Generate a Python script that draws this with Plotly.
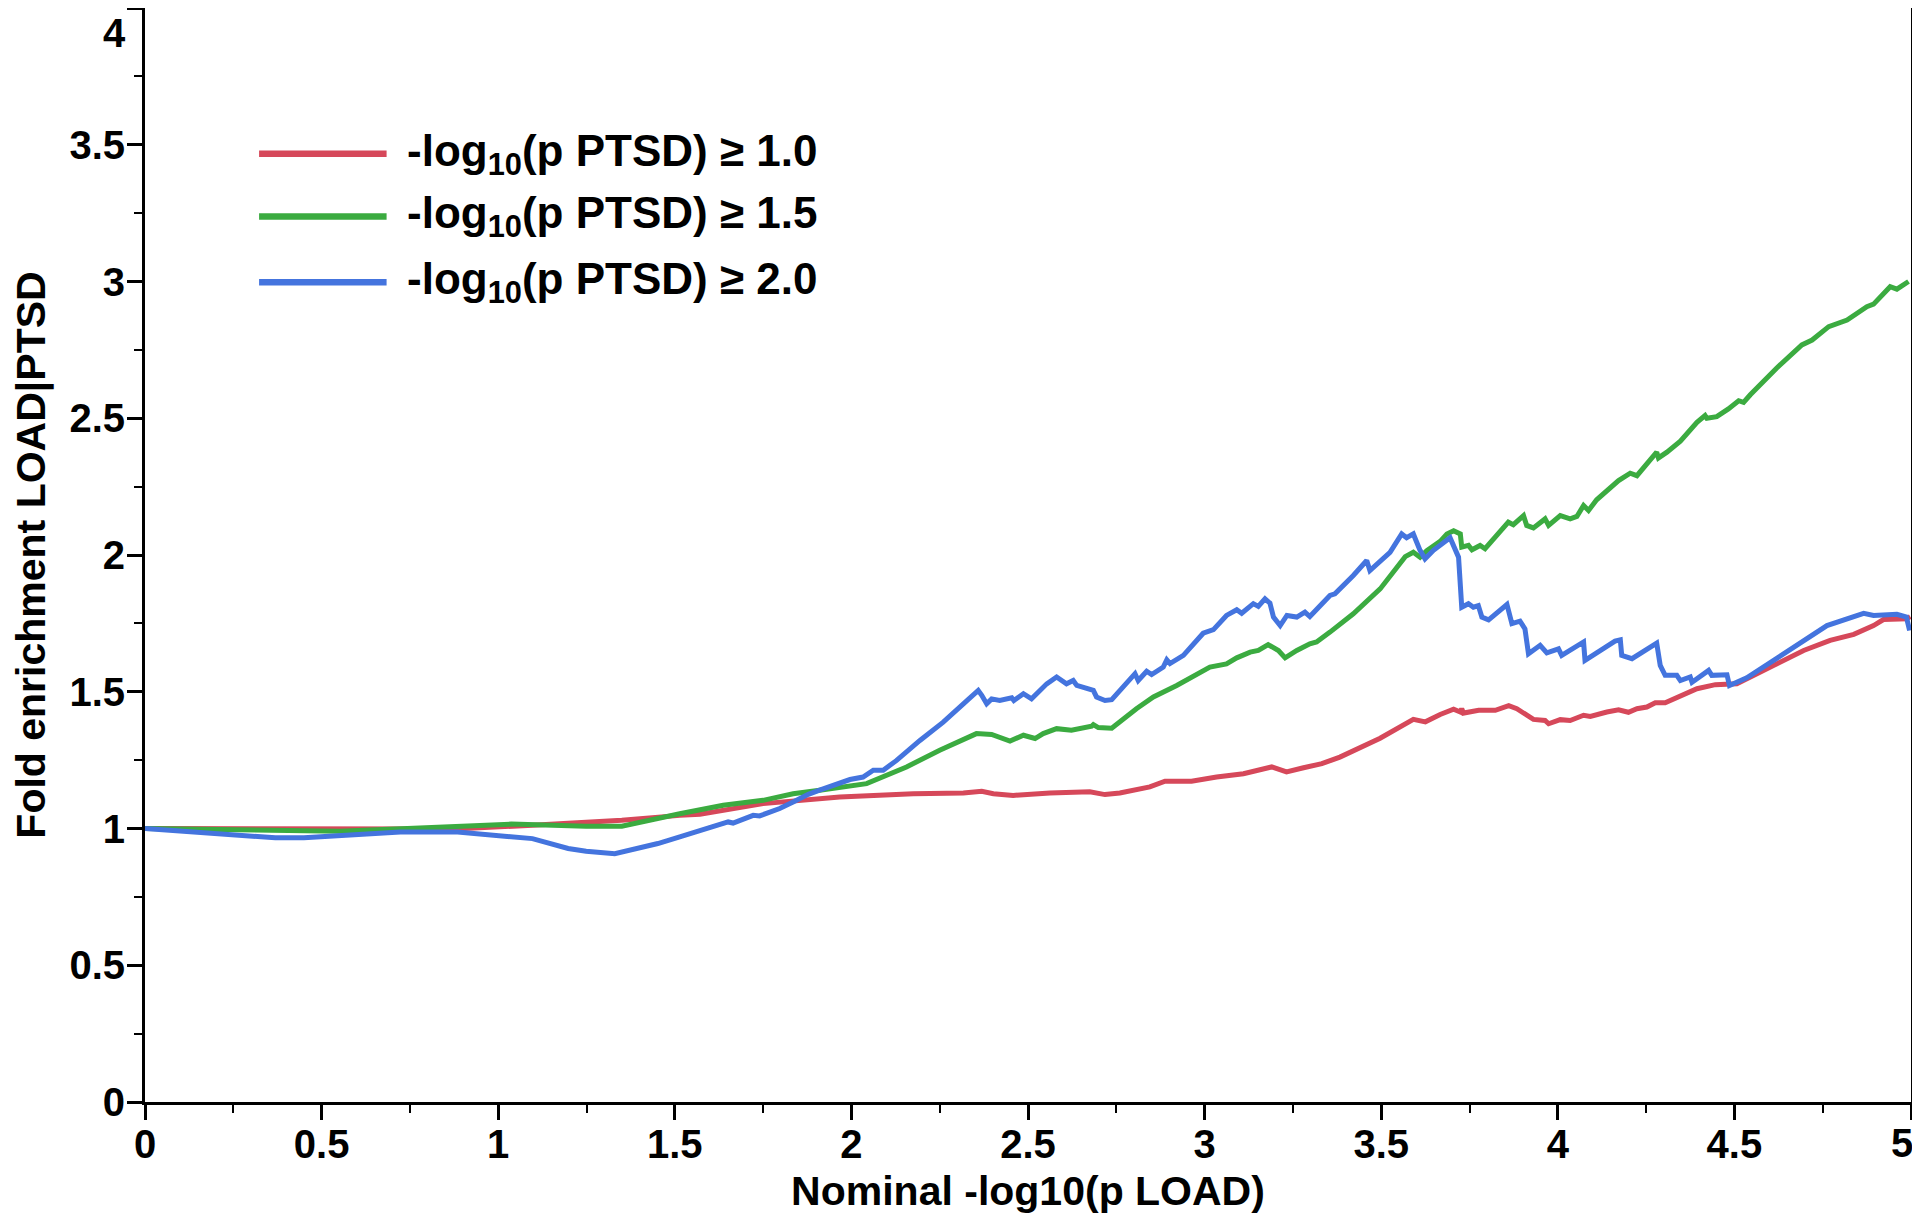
import plotly.graph_objects as go

# ---- data (x = Nominal -log10(p LOAD), y = fold enrichment) ----
red_pts = [
    (0, 1.0), (0.5, 0.999), (0.875, 0.998), (1.097, 1.012), (1.35, 1.03), (1.514, 1.048),
    (1.571, 1.052), (1.75, 1.091), (1.967, 1.115), (2.175, 1.127), (2.317, 1.13), (2.369, 1.136),
    (2.402, 1.127), (2.458, 1.121), (2.562, 1.13), (2.675, 1.134), (2.718, 1.124), (2.76, 1.13),
    (2.845, 1.152), (2.888, 1.173), (2.963, 1.173), (3.034, 1.188), (3.11, 1.20), (3.19, 1.225),
    (3.232, 1.207), (3.28, 1.222), (3.332, 1.237), (3.383, 1.261), (3.497, 1.33), (3.591, 1.399),
    (3.625, 1.39), (3.667, 1.417), (3.705, 1.436), (3.724, 1.426), (3.728, 1.438), (3.733, 1.422),
    (3.776, 1.432), (3.823, 1.432), (3.861, 1.449), (3.884, 1.438), (3.931, 1.399), (3.964, 1.395),
    (3.974, 1.383), (4.007, 1.398), (4.035, 1.395), (4.073, 1.414), (4.092, 1.41), (4.139, 1.426),
    (4.172, 1.434), (4.2, 1.425), (4.224, 1.438), (4.252, 1.444), (4.276, 1.46), (4.304, 1.46),
    (4.394, 1.511), (4.446, 1.526), (4.507, 1.529), (4.592, 1.584), (4.696, 1.651), (4.771, 1.688),
    (4.838, 1.71), (4.894, 1.742), (4.922, 1.764), (4.988, 1.767), (4.998, 1.775),
]

green_pts = [
    (0, 1.0), (0.3, 0.995), (0.551, 0.99), (0.743, 1.0), (1.037, 1.016), (1.249, 1.008),
    (1.35, 1.008), (1.514, 1.054), (1.571, 1.067), (1.637, 1.085), (1.75, 1.103), (1.835, 1.127),
    (1.91, 1.14), (2.043, 1.164), (2.156, 1.225), (2.25, 1.286), (2.354, 1.347), (2.397, 1.344),
    (2.449, 1.32), (2.487, 1.341), (2.52, 1.329), (2.543, 1.347), (2.581, 1.365), (2.623, 1.359),
    (2.68, 1.374), (2.685, 1.38), (2.699, 1.369), (2.737, 1.367), (2.807, 1.438), (2.855, 1.481),
    (2.921, 1.523), (2.996, 1.578), (3.015, 1.59), (3.062, 1.602), (3.091, 1.624), (3.129, 1.645),
    (3.152, 1.651), (3.18, 1.672), (3.209, 1.651), (3.228, 1.624), (3.261, 1.651), (3.298, 1.675),
    (3.317, 1.682), (3.355, 1.718), (3.421, 1.785), (3.497, 1.876), (3.568, 1.994), (3.591, 2.01),
    (3.61, 1.992), (3.629, 2.016), (3.667, 2.05), (3.686, 2.077), (3.705, 2.089), (3.724, 2.077),
    (3.728, 2.029), (3.747, 2.035), (3.757, 2.019), (3.78, 2.035), (3.794, 2.023), (3.86, 2.12),
    (3.874, 2.111), (3.903, 2.144), (3.912, 2.108), (3.931, 2.099), (3.964, 2.132), (3.974, 2.108),
    (4.007, 2.144), (4.035, 2.132), (4.054, 2.141), (4.073, 2.181), (4.087, 2.163), (4.11, 2.202),
    (4.172, 2.272), (4.205, 2.299), (4.224, 2.29), (4.28, 2.376), (4.285, 2.355), (4.309, 2.376),
    (4.347, 2.416), (4.394, 2.485), (4.417, 2.51), (4.422, 2.5), (4.45, 2.506), (4.483, 2.534),
    (4.512, 2.564), (4.526, 2.558), (4.545, 2.586), (4.62, 2.684), (4.691, 2.768), (4.72, 2.786),
    (4.767, 2.835), (4.819, 2.859), (4.875, 2.908), (4.894, 2.917), (4.941, 2.981), (4.96, 2.972),
    (4.993, 3.0),
]

blue_pts = [
    (0, 1.0), (0.369, 0.966), (0.45, 0.966), (0.723, 0.987), (0.885, 0.987), (1.097, 0.963),
    (1.198, 0.927), (1.249, 0.917), (1.33, 0.908), (1.452, 0.945), (1.514, 0.969), (1.571, 0.992),
    (1.627, 1.012), (1.651, 1.024), (1.665, 1.02), (1.722, 1.048), (1.74, 1.046), (1.797, 1.073),
    (1.835, 1.097), (1.878, 1.125), (1.91, 1.14), (1.996, 1.179), (2.033, 1.188), (2.062, 1.213),
    (2.09, 1.213), (2.128, 1.249), (2.194, 1.322), (2.26, 1.389), (2.317, 1.456), (2.359, 1.505),
    (2.369, 1.487), (2.383, 1.456), (2.397, 1.474), (2.42, 1.468), (2.454, 1.478), (2.46, 1.468),
    (2.487, 1.493), (2.51, 1.474), (2.553, 1.529), (2.581, 1.554), (2.609, 1.529), (2.628, 1.541),
    (2.638, 1.523), (2.656, 1.517), (2.685, 1.505), (2.694, 1.481), (2.718, 1.468), (2.737, 1.471),
    (2.803, 1.566), (2.812, 1.541), (2.836, 1.575), (2.85, 1.563), (2.883, 1.59), (2.893, 1.617),
    (2.902, 1.603), (2.94, 1.633), (2.996, 1.714), (3.025, 1.727), (3.062, 1.779), (3.091, 1.8),
    (3.105, 1.787), (3.138, 1.822), (3.152, 1.812), (3.171, 1.84), (3.185, 1.824), (3.195, 1.773),
    (3.214, 1.742), (3.233, 1.779), (3.261, 1.773), (3.284, 1.791), (3.298, 1.775), (3.355, 1.852),
    (3.369, 1.858), (3.421, 1.925), (3.459, 1.98), (3.468, 1.943), (3.525, 2.01), (3.558, 2.077),
    (3.572, 2.063), (3.591, 2.077), (3.61, 2.017), (3.624, 1.986), (3.648, 2.017), (3.695, 2.063),
    (3.705, 2.029), (3.719, 1.992), (3.728, 1.809), (3.747, 1.822), (3.761, 1.809), (3.775, 1.815),
    (3.785, 1.773), (3.804, 1.763), (3.856, 1.819), (3.87, 1.749), (3.893, 1.758), (3.907, 1.73),
    (3.917, 1.639), (3.95, 1.67), (3.969, 1.642), (4.002, 1.657), (4.011, 1.633), (4.073, 1.682),
    (4.077, 1.615), (4.162, 1.685), (4.177, 1.69), (4.181, 1.633), (4.21, 1.621), (4.28, 1.678),
    (4.29, 1.596), (4.304, 1.56), (4.337, 1.56), (4.347, 1.541), (4.375, 1.554), (4.38, 1.535),
    (4.427, 1.578), (4.436, 1.56), (4.479, 1.562), (4.486, 1.523), (4.535, 1.551), (4.64, 1.639),
    (4.762, 1.742), (4.866, 1.787), (4.894, 1.779), (4.96, 1.783), (4.987, 1.773), (4.996, 1.724),
]

series_names = ["-log<sub>10</sub>(p PTSD) ≥ 1.0",
                "-log<sub>10</sub>(p PTSD) ≥ 1.5",
                "-log<sub>10</sub>(p PTSD) ≥ 2.0"]
series_colors = ["#d6485a", "#3bab40", "#4474de"]
series_data = [red_pts, green_pts, blue_pts]

# end labels ("5" on x, "4" on y) are drawn as annotations, nudged inward like the reference
x_tickvals = [0, 0.5, 1, 1.5, 2, 2.5, 3, 3.5, 4, 4.5, 5]
x_ticktext = ["0", "0.5", "1", "1.5", "2", "2.5", "3", "3.5", "4", "4.5", ""]
x_end_label = "5"
y_tickvals = [0, 0.5, 1, 1.5, 2, 2.5, 3, 3.5, 4]
y_ticktext = ["0", "0.5", "1", "1.5", "2", "2.5", "3", "3.5", ""]
y_top_label = "4"

x_title = "Nominal -log10(p LOAD)"
y_title = "Fold enrichment LOAD|PTSD"

FONT = "Liberation Sans, Arial, Helvetica, sans-serif"
TICK_SIZE = 40

fig = go.Figure()
for name, color, pts in zip(series_names, series_colors, series_data):
    xs, ys = zip(*pts)
    fig.add_trace(go.Scatter(x=list(xs), y=list(ys), mode="lines", name=name,
                             line=dict(color=color, width=5), showlegend=False))

axis_common = dict(
    showgrid=False, zeroline=False, showline=True, linecolor="black", linewidth=2.8,
    mirror=True, ticks="outside", ticklen=15, tickwidth=2.6, tickcolor="black",
    tickfont=dict(family=FONT, size=TICK_SIZE, color="black", weight="bold"),
    title_font=dict(family=FONT, size=41, color="black", weight="bold"),
    automargin=False, ticklabeloverflow="allow",
)

fig.update_xaxes(range=[0, 5], tickmode="array", tickvals=x_tickvals, ticktext=x_ticktext,
                 ticklabelstandoff=-10,
                 minor=dict(dtick=0.25, tick0=0, ticks="outside", ticklen=8, tickwidth=2.4,
                            tickcolor="black"),
                 title=dict(text=x_title, standoff=12), **axis_common)
fig.update_yaxes(range=[0, 4], tickmode="array", tickvals=y_tickvals, ticktext=y_ticktext,
                 ticklabelstandoff=-6,
                 minor=dict(dtick=0.25, tick0=0, ticks="outside", ticklen=8, tickwidth=2.4,
                            tickcolor="black"),
                 title=dict(text=y_title, standoff=37), **axis_common)

fig.add_annotation(xref="x", yref="y", x=0, y=4, text=y_top_label, showarrow=False,
                   xanchor="right", yanchor="top", xshift=-17, yshift=-1,
                   font=dict(family=FONT, size=TICK_SIZE, color="black", weight="bold"))
fig.add_annotation(xref="x", yref="y", x=5, y=0, text=x_end_label, showarrow=False,
                   xanchor="right", yanchor="top", xshift=4, yshift=-17,
                   font=dict(family=FONT, size=TICK_SIZE, color="black", weight="bold"))

# manual legend (long line samples like the reference)
legend_rows_y = [3.467, 3.238, 2.997]
for name, color, ly in zip(series_names, series_colors, legend_rows_y):
    fig.add_shape(type="line", xref="x", yref="y", x0=0.323, x1=0.684, y0=ly, y1=ly,
                  line=dict(color=color, width=6.5))
    fig.add_annotation(xref="x", yref="y", x=0.737, y=ly, text=name, showarrow=False,
                       xanchor="left", yanchor="middle",
                       font=dict(family=FONT, size=44, color="black", weight="bold"))

# page body has an 8px default margin, so the figure is 8px smaller and the margins compensate
fig.update_layout(
    width=1912, height=1211,
    margin=dict(l=137, r=9, t=0, b=117),
    plot_bgcolor="white", paper_bgcolor="white",
)

fig.write_html("out.html")
